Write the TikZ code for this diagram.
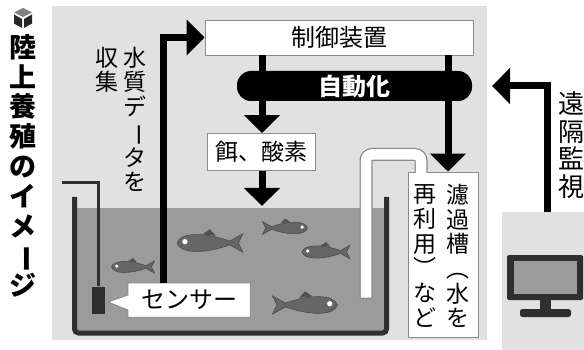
\documentclass[tikz,border=0pt]{standalone}
\usepackage{fontspec}
\usepackage{graphicx}
\newfontfamily\jpfont{Noto Sans CJK JP}
\usetikzlibrary{arrows.meta,calc}

\definecolor{panelgray}{HTML}{E1E1E1}
\definecolor{watergray}{HTML}{9B9B9B}
\definecolor{fishgray}{HTML}{666666}
\definecolor{tankdark}{HTML}{2F2F2F}
\definecolor{rimgray}{HTML}{8A8A8A}

% long vowel mark set upright for vertical writing
\newcommand\choon{\rotatebox[origin=c]{-90}{ー}}

\tikzset{
  flowline/.style={line width=7pt, draw=black, -{Triangle[width=35pt,length=18pt]}},
  whitebox/.style={draw=rimgray, line width=0.9pt, fill=white, inner sep=0pt},
  vcol/.style 2 args={align=center, inner sep=0pt, font=\jpfont\fontsize{#1}{#2}\selectfont},
  fish/.pic={
    \path[fill=fishgray, draw=fishgray!75!black, line width=0.6pt]
      (-0.5,0) .. controls (-0.45,-0.16) and (-0.1,-0.17) .. (0.3,-0.03)
      -- (0.5,-0.14) -- (0.43,0) -- (0.5,0.14) -- (0.3,0.03)
      .. controls (-0.1,0.17) and (-0.45,0.16) .. (-0.5,0) -- cycle;
    \fill[fishgray!80!black] (-0.12,-0.13) -- (0.0,-0.21) -- (0.09,-0.11) -- cycle;
    \fill[white] (-0.38,-0.02) circle (0.04);
  }
}

\begin{document}
\begin{tikzpicture}[x=1pt,y=-1pt]
\useasboundingbox (0,0) rectangle (584,350);
\fill[white] (0,0) rectangle (584,350);

% background panels
\node[fill=panelgray, inner sep=0, minimum width=435pt, minimum height=334pt, anchor=north west] (mainpanel) at (52,6) {};
\node[fill=panelgray, inner sep=0, minimum width=82pt, minimum height=138pt, anchor=north west] (tvpanel) at (502,212) {};

% title with its icon
\fill[gray] (23,8) -- (32,12.5) -- (23,17) -- (14,12.5) -- cycle;
\fill[black!85] (14,14.5) -- (22,19) -- (22,28) -- (14,23.5) -- cycle;
\fill[black!85] (24,19) -- (32,14.5) -- (32,23.5) -- (24,28) -- cycle;
\node[anchor=north, align=center, inner sep=0, font=\jpfont\bfseries\fontsize{27}{29.8}\selectfont] (title) at (23,34)
  {陸\\上\\養\\殖\\の\\イ\\メ\\\choon\\ジ};

% water and fish
\fill[watergray] (77,208) rectangle (384,331);
\pic[scale=43] at (133,267) {fish};
\pic[scale=66] at (210,243) {fish};
\pic[scale=45, xscale=-1] at (285,228) {fish};
\pic[scale=48] at (326,252) {fish};
\pic[scale=65, xscale=-1] at (305,305) {fish};

% tank walls
\draw[tankdark, line width=5pt, rounded corners=4pt] (74.5,197) |- (386.5,333) -- (386.5,197);

% filter unit and its return pipe
\node[whitebox, minimum width=70pt, minimum height=165pt] (filt) at (443,254.5) {};
\draw[rimgray, line width=13pt, rounded corners=6pt] (366,299) |- (421,154.5) -- (421,172);
\draw[white, line width=10.5pt, rounded corners=6pt] (366,297.5) |- (421,154.5) -- (421,174);
\node[vcol={23}{24.7}] (filtA) at (457.5,256) {濾\\過\\槽\\︵\\水\\を};
\node[vcol={23}{24.7}] (filtB) at (425,256) {再\\利\\用\\︶\\な\\ど};

% sensor
\node[fill=tankdark, inner sep=0, minimum width=13pt, minimum height=27pt] (sensor) at (98.5,300) {};
\coordinate (wireend) at (62,183);
\draw[tankdark, line width=3pt] (sensor.north) |- (wireend);

% sensor callout
\node[inner sep=0, minimum width=122pt, minimum height=34pt] (label) at (189,300) {};
\coordinate (ptip) at (108,302);
\filldraw[draw=rimgray, line width=0.9pt, fill=white]
  (label.north west) -- (label.north east) -- (label.south east) -- (label.south west)
  -- ($(label.west)+(0,10)$) -- (ptip) -- ($(label.west)+(0,-5)$) -- cycle;
\node[font=\jpfont\fontsize{24}{26}\selectfont] at (label.center) {センサー};

% control unit and feed box
\node[whitebox, minimum width=268pt, minimum height=35pt, font=\jpfont\fontsize{24}{26}\selectfont] (ctrl) at (339,37.5) {制御装置};
\node[whitebox, minimum width=108pt, minimum height=37pt, font=\jpfont\fontsize{23}{25}\selectfont] (feed) at (261,152) {餌、酸素};

% data line from the sensor to the control unit
\coordinate (datax) at (163,0);
\draw[flowline] (label.north -| datax) |- (ctrl.west);
\node[vcol={23}{24.5}, anchor=north] (wq) at (135,47) {水\\質\\デ\\\choon\\タ\\を};
\node[vcol={23}{24.5}, anchor=north] (collect) at (107,47) {収\\集};

% control outputs
\coordinate (leftx) at (262,0);
\coordinate (rightx) at (448,0);
\coordinate (watertop) at (0,206);
\draw[flowline] (ctrl.south -| leftx) -- (leftx |- feed.north);
\draw[flowline] (feed.south -| leftx) -- (leftx |- watertop);
\draw[flowline] (ctrl.south -| rightx) -- (rightx |- filt.north);
\node[fill=black, rounded corners=14pt, minimum width=235pt, minimum height=30pt, inner sep=0, text=white,
      font=\jpfont\bfseries\fontsize{24}{26}\selectfont] (auto) at (354.5,86) {自動化};

% remote monitoring
\coordinate (remx) at (547,0);
\coordinate (remtip) at (492,86);
\draw[flowline] (tvpanel.north -| remx) |- (remtip);
\node[vcol={26}{27.5}] (remote) at (571,145) {遠\\隔\\監\\視};

% monitor
\fill[tankdark, rounded corners=1.5pt] (507,255) rectangle (583,300);
\fill[watergray] (514,261) rectangle (577,294);
\fill[tankdark] (540,299) rectangle (551,311);
\fill[tankdark, rounded corners=2.5pt] (520,309) rectangle (571,317);
\end{tikzpicture}
\end{document}
